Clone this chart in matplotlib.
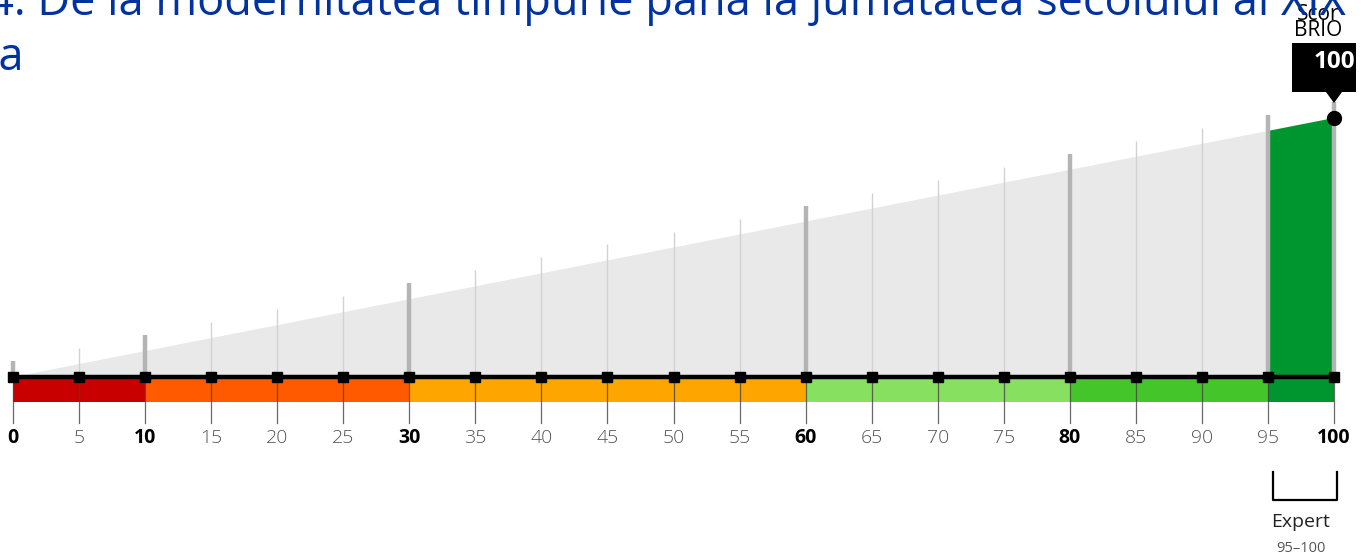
import matplotlib
matplotlib.use("Agg")
import matplotlib.pyplot as plt
from matplotlib.patches import Polygon, Rectangle

# ---- data ----
title_line1 = "4. De la modernitatea timpurie până la jumătatea secolului al XIX"
title_line2 = "-a"
ticks = [0, 5, 10, 15, 20, 25, 30, 35, 40, 45, 50, 55, 60, 65, 70, 75, 80, 85, 90, 95, 100]
bold_ticks = [0, 10, 30, 60, 80, 100]
band_edges = [0, 10, 30, 60, 80, 95, 100]
band_colors = ["#c80000", "#ff5a00", "#ffa500", "#88e060", "#44c52a", "#00962f"]
score = 100
score_label = "Scor\nBRIO"
level_name = "Expert"
level_range = (95, 100)

# ---- layout (pixel geometry) ----
W, H, DPI = 1364, 556, 100
X0_PX, X1_PX = 13, 1334          # pixel of value 0 and value 100
BASE_PX = 377                     # baseline pixel row
TOP100_PX = 118                   # triangle top at value 100
sx = (X1_PX - X0_PX) / 100.0
sy = (BASE_PX - TOP100_PX) / 100.0

def px_to_y(p):
    return (BASE_PX - p) / sy

def px_to_x(p):
    return (p - X0_PX) / sx

plt.rcParams['font.family'] = ['Open Sans', 'DejaVu Sans']
fig = plt.figure(figsize=(W / DPI, H / DPI), dpi=DPI)
ax = fig.add_axes([0, 0, 1, 1])
ax.set_xlim(px_to_x(0), px_to_x(W))
ax.set_ylim(px_to_y(H), px_to_y(0))
ax.axis('off')

lo, hi = ticks[0], ticks[-1]
# grey triangle
ax.add_patch(Polygon([(lo, 0), (hi, hi), (hi, 0)], closed=True, fc="#e9e9e9", ec="none", zorder=1))
# score segment fill (current level)
ax.add_patch(Polygon([(level_range[0], 0), (level_range[0], level_range[0]),
                      (score, score), (score, 0)], closed=True, fc=band_colors[-1], ec="none", zorder=2))

# vertical grey lines above triangle
ext = 16 / sy
for t in ticks:
    thick = t in band_edges
    ax.plot([t, t], [0, t + ext], color="#b4b4b4" if thick else "#d2d2d2",
            lw=3.2 if thick else 1.0, zorder=3 if thick else 1.5, solid_capstyle='butt')

# colour bands
band_h = 25 / sy
for a, b, c in zip(band_edges[:-1], band_edges[1:], band_colors):
    ax.add_patch(Rectangle((a, -band_h), b - a, band_h, fc=c, ec="none", zorder=2))

# tick lines below
tick_len = 46 / sy
for t in ticks:
    ax.plot([t, t], [0, -tick_len], color="#444444", lw=0.9, alpha=0.8, zorder=4)

# baseline and square markers
ax.plot([lo, hi], [0, 0], color="black", lw=3.2, zorder=5, solid_capstyle='butt')
ax.plot(ticks, [0] * len(ticks), ls="none", marker="s", ms=6.5, color="black", zorder=6)

# tick labels
lab_y = px_to_y(438)
for t in ticks:
    if t in bold_ticks:
        ax.text(t, lab_y, str(t), ha="center", va="center", fontsize=14, fontweight="bold",
                color="black", zorder=6)
    else:
        ax.text(t, lab_y, str(t), ha="center", va="center", fontsize=14, fontweight="light",
                color="#555555", zorder=6)

# score marker
ax.plot([score], [score], marker="o", ms=10, color="black", zorder=7)

# label box with pointer
bx0, bx1 = 1292, 1356
by0, by1, tip = 43, 92, 103
box = Polygon([(px_to_x(bx0), px_to_y(by0)), (px_to_x(bx1), px_to_y(by0)),
               (px_to_x(bx1), px_to_y(by1)), (score + 8 / sx, px_to_y(by1)),
               (score, px_to_y(tip)), (score - 8 / sx, px_to_y(by1)),
               (px_to_x(bx0), px_to_y(by1))], closed=True, fc="black", ec="none", zorder=8)
ax.add_patch(box)
ax.text(px_to_x(1334), px_to_y(62), str(score), ha="center", va="center", fontsize=17.5,
        fontweight="bold", color="white", zorder=9)
lab1, lab2 = score_label.split("\n")
ax.text(px_to_x(1318), px_to_y(15), lab1, ha="center", va="center",
        fontsize=15, color="black", zorder=9)
ax.text(px_to_x(1318), px_to_y(30), lab2, ha="center", va="center",
        fontsize=15, color="black", zorder=9)

# bracket for level
bl = level_range[0] + 0.4
br = level_range[1] + 0.2
ax.plot([bl, bl, br, br], [px_to_y(472), px_to_y(500), px_to_y(500), px_to_y(472)],
        color="black", lw=1.6, zorder=5)
mid = (level_range[0] + level_range[1]) / 2
ax.text(mid, px_to_y(522), level_name, ha="center", va="center", fontsize=14, color="#222222")
ax.text(mid, px_to_y(549), f"{level_range[0]}\u2013{level_range[1]}", ha="center", va="center",
        fontsize=10.5, color="#555555")

# title
fig.text(-12 / W, 1 - 15 / H, title_line1, ha="left", va="baseline", fontsize=32.5,
         color="#0033a0")
fig.text(-16 / W, 1 - 70 / H, title_line2, ha="left", va="baseline", fontsize=32.5,
         color="#0033a0")

fig.savefig("out.png", dpi=DPI)
